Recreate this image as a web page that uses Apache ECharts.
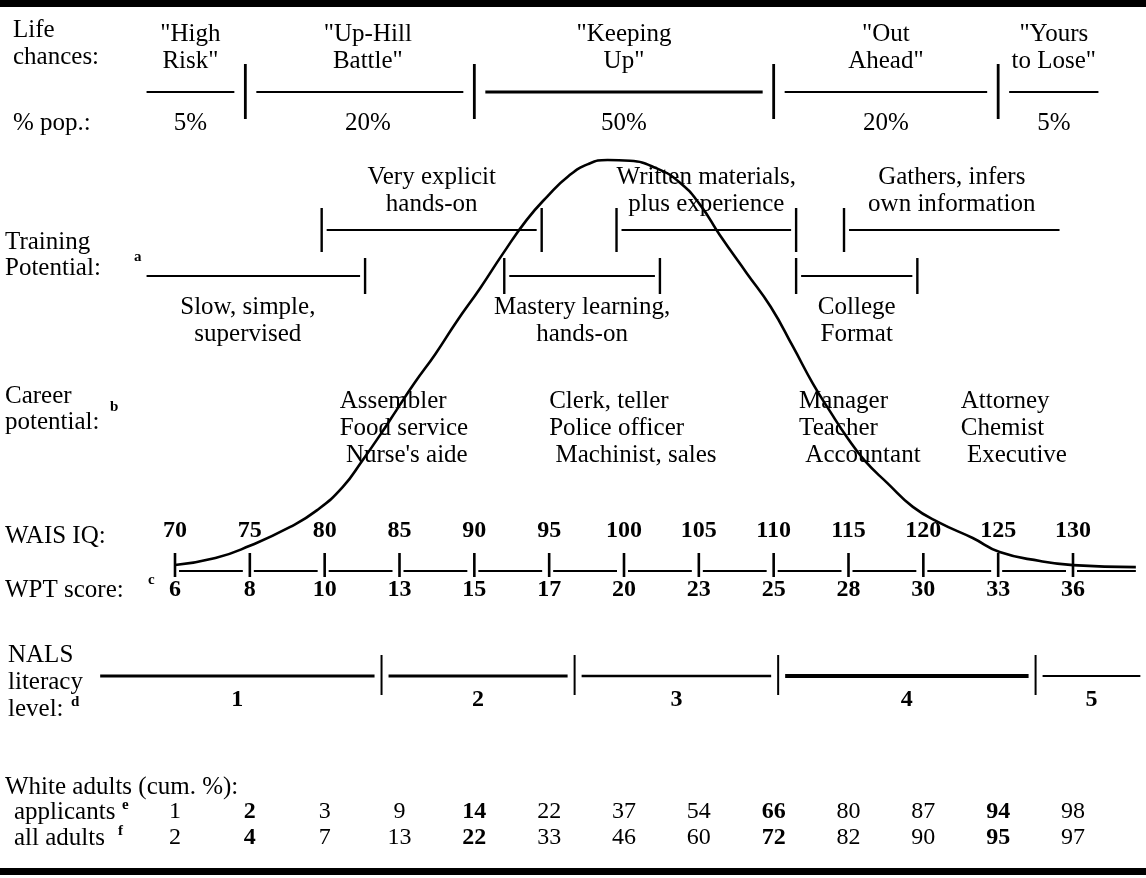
<!DOCTYPE html>
<html>
<head>
<meta charset="utf-8">
<script src="https://cdn.jsdelivr.net/npm/echarts@6/dist/echarts.min.js"></script>
<style>
  html, body { margin: 0; padding: 0; background: #fff; }
  #chart { width: 1146px; height: 878px; }
</style>
</head>
<body>
<div id="chart"></div>
<script>
// ---- data ----
const iqTicks = [70, 75, 80, 85, 90, 95, 100, 105, 110, 115, 120, 125, 130];
const wptScores = [6, 8, 10, 13, 15, 17, 20, 23, 25, 28, 30, 33, 36];
const applicantsCum = [1, 2, 3, 9, 14, 22, 37, 54, 66, 80, 87, 94, 98];
const allAdultsCum = [2, 4, 7, 13, 22, 33, 46, 60, 72, 82, 90, 95, 97];
const boldIQ = [75, 90, 110, 125];

// bell curve, relative height (peak = 100) against WAIS IQ
const curveIQ = [70.0, 72.7, 75.0, 77.7, 79.5, 81.2, 82.5, 83.7, 84.8, 86.0, 87.4, 88.8, 90.4, 91.9, 93.5, 94.9,
  96.3, 97.6, 98.9, 100.4, 102.1, 103.7, 105.1, 106.4, 108.2, 109.8, 111.3, 112.6, 113.8, 114.9, 116.1, 117.6,
  119.3, 121.1, 123.3, 125.1, 127.8, 130.0, 134.2];
const curveHeight = [1.2, 2.9, 5.9, 10.5, 14.6, 20.2, 26.6, 32.9, 39.0, 45.6, 52.7, 60.5, 68.8, 77.1, 85.4, 91.2,
  96.1, 99.0, 100, 99.8, 98.1, 94.6, 89.0, 81.7, 72.4, 64.2, 54.4, 45.6, 38.5, 32.4, 26.6, 21.2,
  15.4, 11.5, 7.8, 4.4, 2.2, 1.2, 0.7];

const lifeLabels = ['"High\nRisk"', '"Up-Hill\nBattle"', '"Keeping\nUp"', '"Out\nAhead"', '"Yours\nto Lose"'];
const lifePct = ['5%', '20%', '50%', '20%', '5%'];
const lifeCuts = [74.7, 90, 110, 125];
const lifeSpan = [68.1, 131.7];

const trainLabels = ['Slow, simple,\nsupervised', 'Very explicit\nhands-on', 'Mastery learning,\nhands-on',
  'Written materials,\nplus experience', 'College\nFormat', 'Gathers, infers\nown information'];
const trainFrom = [68.1, 79.8, 92.0, 99.5, 111.5, 114.7];
const trainTo = [82.7, 94.5, 102.4, 111.5, 119.6, 129.1];
const trainRow = ['lower', 'upper', 'lower', 'upper', 'lower', 'upper'];
const trainEnds = ['right', 'both', 'both', 'both', 'both', 'left'];

const careers = [
  ['Assembler', 'Food service', " Nurse's aide"],
  ['Clerk, teller', 'Police officer', ' Machinist, sales'],
  ['Manager', 'Teacher', ' Accountant'],
  ['Attorney', 'Chemist', ' Executive']
];
const careerFromIQ = [81.0, 95.0, 111.7, 122.5];

const nalsLevels = ['1', '2', '3', '4', '5'];
const nalsCuts = [83.8, 96.7, 110.3, 127.5];
const nalsSpan = [65.0, 134.5];
const waisLineEnd = 134.2;

// ---- layout ----
const W = 1146, H = 878;
const IQ70_PX = 175, IQ130_PX = 1073;
const PPI = (IQ130_PX - IQ70_PX) / 60;
const XMIN = 70 - IQ70_PX / PPI;
const XMAX = 130 + (W - IQ130_PX) / PPI;
const BASE_PX = 570, PEAK_PX = 160;          // curve height 0 and 100
const YRANGE = 100 * H / (BASE_PX - PEAK_PX);
const YMAX = BASE_PX * YRANGE / H;
const YMIN = YMAX - YRANGE;

const INK = '#000';
const SERIF = '"Liberation Serif", "Times New Roman", "DejaVu Serif", serif';
const font = (size, bold) => (bold ? 'bold ' : '') + size + 'px ' + SERIF;
const BODY = font(25);
const NUM_B = font(24, true);

function txt(text, x, y, o) {
  o = o || {};
  const align = o.align || 'center';
  return {
    type: 'text',
    style: {
      text: text, x: x, y: y, font: o.font || BODY, fill: INK,
      align: align, textAlign: align, verticalAlign: 'middle', textVerticalAlign: 'middle',
      lineHeight: o.lineHeight || 27
    }
  };
}
function hLine(x1, x2, y, w) {
  return { type: 'line', shape: { x1: x1, y1: y, x2: x2, y2: y }, style: { stroke: INK, lineWidth: w || 2.4 } };
}
function vLine(x, y1, y2, w) {
  return { type: 'line', shape: { x1: x, y1: y1, x2: x, y2: y2 }, style: { stroke: INK, lineWidth: w || 2.6 } };
}
const px = (api, iq) => api.coord([iq, 0])[0];

function bins(span, cuts) {
  const edges = [span[0]].concat(cuts, [span[1]]);
  return edges.slice(0, -1).map((lo, i) => [lo, edges[i + 1]]);
}

const chart = echarts.init(document.getElementById('chart'), null, { renderer: 'canvas' });

const lifeSeries = {
  type: 'custom', silent: true, z: 2,
  data: bins(lifeSpan, lifeCuts),
  renderItem: function (params, api) {
    const i = params.dataIndex, n = lifeLabels.length, gap = 11;
    const xl = px(api, api.value(0)) + (i > 0 ? gap : 0);
    const xr = px(api, api.value(1)) - (i < n - 1 ? gap : 0);
    const mid = (xl + xr) / 2 + (i === 1 ? 8 : 0);
    const kids = [
      hLine(xl, xr, 92, i === 2 ? 3 : 2.2),
      txt(lifeLabels[i], mid, 48),
      txt(lifePct[i], mid, 123)
    ];
    if (i < n - 1) kids.push(vLine(px(api, api.value(1)), 64, 119, 2.8));
    return { type: 'group', children: kids };
  }
};

const trainSeries = {
  type: 'custom', silent: true, z: 2,
  data: trainFrom.map((f, i) => [f, trainTo[i]]),
  renderItem: function (params, api) {
    const i = params.dataIndex, gap = 5;
    const upper = trainRow[i] === 'upper';
    const lineY = upper ? 230 : 276;
    const barTop = upper ? 208 : 258, barBot = upper ? 252 : 294;
    const x0 = px(api, api.value(0)), x1 = px(api, api.value(1));
    const leftBar = trainEnds[i] !== 'right', rightBar = trainEnds[i] !== 'left';
    const kids = [hLine(x0 + (leftBar ? gap : 0), x1 - (rightBar ? gap : 0), lineY, 2)];
    if (leftBar) kids.push(vLine(x0, barTop, barBot, 2.4));
    if (rightBar) kids.push(vLine(x1, barTop, barBot, 2.4));
    kids.push(txt(trainLabels[i], (x0 + x1) / 2 - (i === 0 ? 8 : 0), upper ? 191 : 321));
    return { type: 'group', children: kids };
  }
};

const careerSeries = {
  type: 'custom', silent: true, z: 2,
  data: careerFromIQ.map((iq, i) => [iq, i]),
  renderItem: function (params, api) {
    const i = params.dataIndex;
    return txt(careers[i].join('\n'), px(api, api.value(0)), 428, { align: 'left' });
  }
};

const waisSeries = {
  type: 'custom', silent: true, z: 2,
  data: iqTicks.map((iq, i) => [iq, wptScores[i]]),
  renderItem: function (params, api) {
    const i = params.dataIndex, n = iqTicks.length;
    const x = px(api, api.value(0));
    const next = i < n - 1 ? px(api, iqTicks[i + 1]) - 7 : px(api, waisLineEnd);
    return {
      type: 'group',
      children: [
        vLine(x, 553, 577, 2.6),
        hLine(x + 4, next, 571, 2.2),
        txt(String(api.value(0)), x, 531, { font: NUM_B }),
        txt(String(api.value(1)), x, 590, { font: NUM_B })
      ]
    };
  }
};

const nalsSeries = {
  type: 'custom', silent: true, z: 2,
  data: bins(nalsSpan, nalsCuts),
  renderItem: function (params, api) {
    const i = params.dataIndex, n = nalsLevels.length, gap = 7;
    const xl = px(api, api.value(0)) + (i > 0 ? gap : 0);
    const xr = px(api, api.value(1)) - (i < n - 1 ? gap : 0);
    const widths = [2.8, 2.8, 2.4, 4.2, 2.2];
    const kids = [
      hLine(xl, xr, 676, widths[i]),
      txt(nalsLevels[i], (xl + xr) / 2, 700, { font: NUM_B })
    ];
    if (i < n - 1) kids.push(vLine(px(api, api.value(1)), 655, 695, 2));
    return { type: 'group', children: kids };
  }
};

const tableSeries = {
  type: 'custom', silent: true, z: 2,
  data: iqTicks.map((iq, i) => [iq, applicantsCum[i], allAdultsCum[i]]),
  renderItem: function (params, api) {
    const iq = api.value(0), x = px(api, iq);
    const f = boldIQ.indexOf(iq) >= 0 ? NUM_B : font(24);
    return {
      type: 'group',
      children: [
        txt(String(api.value(1)), x, 812, { font: f }),
        txt(String(api.value(2)), x, 838, { font: f })
      ]
    };
  }
};

const curveSeries = {
  type: 'line', silent: true, z: 5,
  data: curveIQ.map((iq, i) => [iq, curveHeight[i]]),
  smooth: 0.5, symbol: 'none',
  lineStyle: { color: INK, width: 2.6 }
};

function sideText(text, x, y, f) {
  return {
    type: 'text', x: x, y: y, silent: true,
    style: { text: text, font: f || BODY, fill: INK,
      align: 'left', textAlign: 'left', verticalAlign: 'middle', textVerticalAlign: 'middle' }
  };
}
const SUP = font(15, true);

const option = {
  animation: false,
  grid: { left: 0, right: 0, top: 0, bottom: 0 },
  xAxis: { type: 'value', min: XMIN, max: XMAX, show: false },
  yAxis: { type: 'value', min: YMIN, max: YMAX, show: false },
  series: [lifeSeries, trainSeries, careerSeries, waisSeries, nalsSeries, tableSeries, curveSeries],
  graphic: [
    { type: 'rect', shape: { x: 0, y: 0, width: W, height: 7 }, style: { fill: INK }, silent: true },
    { type: 'rect', shape: { x: 0, y: 868, width: W, height: 7 }, style: { fill: INK }, silent: true },
    sideText('Life', 13, 30),
    sideText('chances:', 13, 57),
    sideText('% pop.:', 13, 123),
    sideText('Training', 5, 242),
    sideText('Potential:', 5, 268),
    sideText('a', 134, 257, SUP),
    sideText('Career', 5, 396),
    sideText('potential:', 5, 422),
    sideText('b', 110, 407, SUP),
    sideText('WAIS IQ:', 5, 536),
    sideText('WPT score:', 5, 590),
    sideText('c', 148, 580, SUP),
    sideText('NALS', 8, 655),
    sideText('literacy', 8, 682),
    sideText('level:', 8, 709),
    sideText('d', 71, 702, SUP),
    sideText('White adults (cum. %):', 5, 787),
    sideText('applicants', 14, 812),
    sideText('e', 122, 805, SUP),
    sideText('all adults', 14, 838),
    sideText('f', 118, 831, SUP)
  ]
};

chart.setOption(option);
</script>
</body>
</html>
